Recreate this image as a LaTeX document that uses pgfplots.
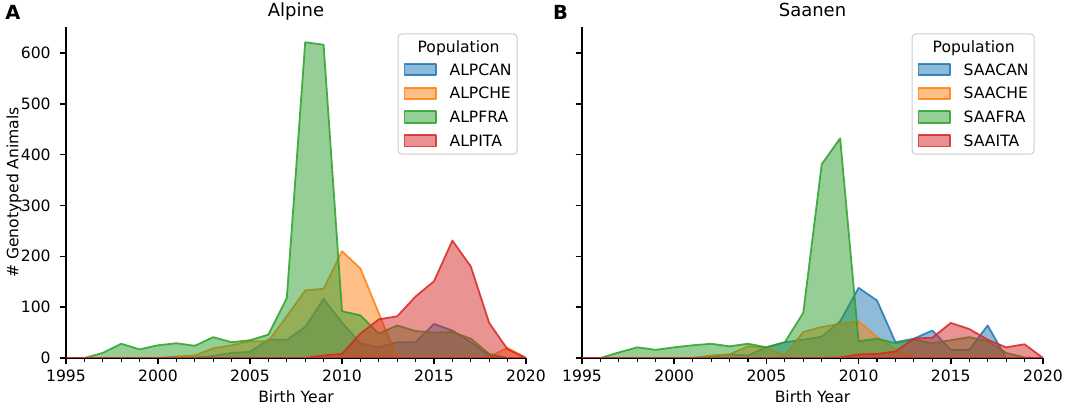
\documentclass[border=0pt]{standalone}
\usepackage{pgfplots}
\pgfplotsset{compat=1.18}
\usepackage{pgfplotstable}
\usepackage{fontspec}
\setmainfont{DejaVu Sans}
\definecolor{tabblue}{HTML}{1F77B4}
\definecolor{taborange}{HTML}{FF7F0E}
\definecolor{tabgreen}{HTML}{2CA02C}
\definecolor{tabred}{HTML}{D62728}
\definecolor{leggray}{HTML}{CCCCCC}

\pgfplotstableread{
year CAN CHE FRA ITA
1995 0 0 0 0
1996 0 0 0 0
1997 0 0 10 0
1998 0 0 28 0
1999 0 0 17 0
2000 0 0 25 0
2001 0 3 29 0
2002 1 5 24 0
2003 4 19 41 0
2004 10 25 31 0
2005 12 33 35 0
2006 36 33 46 0
2007 36 82 118 0
2008 61 133 621 0
2009 116 136 616 5
2010 70 210 92 8
2011 29 176 84 48
2012 21 88 48 76
2013 31 0 64 82
2014 31 0 53 121
2015 67 0 50 151
2016 54 0 51 231
2017 31 0 38 180
2018 5 2 8 69
2019 0 20 0 17
2020 0 0 0 0
}\alpine

\pgfplotstableread{
year CAN CHE FRA ITA
1995 0 0 0 0
1996 0 0 0 0
1997 0 0 11 0
1998 0 0 21 0
1999 0 0 16 0
2000 0 0 21 0
2001 0 0 25 0
2002 2 5 28 0
2003 7 7 23 0
2004 5 23 28 0
2005 21 21 21 0
2006 31 5 31 0
2007 36 51 89 0
2008 42 61 381 0
2009 72 67 432 1
2010 138 72 33 7
2011 113 41 38 8
2012 31 17 29 13
2013 38 0 36 38
2014 54 0 29 40
2015 16 0 35 69
2016 16 0 41 57
2017 64 0 33 36
2018 0 0 10 21
2019 0 0 1 27
2020 0 0 0 0
}\saanen

\newcommand{\ticksize}{\fontsize{7.8}{9}\selectfont}

\pgfplotsset{
  legend image code/.code={\draw[#1,sharp corners] (0pt,-2.85pt) rectangle (15.8pt,2.85pt);},
  mystyle/.style={
    scale only axis, width=230pt, height=165.5pt,
    xmin=1995, xmax=2020, ymin=0, ymax=651,
    axis x line*=bottom, axis y line*=left,
    axis line style={line width=0.74pt, black},
    xtick={1995,2000,...,2020}, minor xtick={1995,...,2020},
    ytick={0,100,...,600},
    tick align=outside,
    major tick length=3.25pt, minor tick length=1.9pt,
    major tick style={line width=0.74pt, black},
    minor tick style={line width=0.55pt, black},
    /pgf/number format/1000 sep={},
    /pgf/number format/assume math mode=true,
    tick label style={font=\ticksize},
    xticklabel style={anchor=base, inner sep=0pt, yshift=-8.6pt},
    yticklabel style={anchor=east, inner sep=0pt, xshift=-4.25pt},
    label style={font=\ticksize},
    xlabel style={at={(axis description cs:0.5,0)}, anchor=base, yshift=-22.5pt},
    title style={at={(axis description cs:0.5,1)}, anchor=base, yshift=-0.8pt, font=\fontsize{9}{11}\selectfont},
    legend cell align=left,
    legend style={at={(1,1)}, anchor=north east, xshift=-4.15pt, yshift=-3.15pt,
      draw=leggray, line width=0.5pt, rounded corners=2pt, fill=white, font=\ticksize,
      inner xsep=2.8pt, inner ysep=3.4pt, row sep=5.25pt, column sep=6.3pt,
      nodes={inner sep=0pt, text height=5.8pt, text depth=0.2pt}},
  },
  sblue/.style={draw=tabblue, draw opacity=0.85, fill=tabblue, fill opacity=0.5, line width=0.9pt, line join=round},
  sorange/.style={draw=taborange, draw opacity=0.85, fill=taborange, fill opacity=0.5, line width=0.9pt, line join=round},
  sgreen/.style={draw=tabgreen, draw opacity=0.85, fill=tabgreen, fill opacity=0.5, line width=0.9pt, line join=round},
  sred/.style={draw=tabred, draw opacity=0.85, fill=tabred, fill opacity=0.5, line width=0.9pt, line join=round},
}

\begin{document}
\begin{tikzpicture}
\path[use as bounding box] (0,0) rectangle (532.5pt,202.5pt);

\begin{axis}[mystyle, at={(33pt,23.5pt)}, anchor=south west,
  title={Alpine}, xlabel={Birth Year}, ylabel={\# Genotyped Animals},
  ylabel style={at={(axis description cs:-0.113,0.5)}, anchor=center}]
\addlegendimage{empty legend}\addlegendentry{\hspace{-16pt}Population}
\addplot[sblue] table[x=year,y=CAN]{\alpine} \closedcycle;
\addlegendentry{ALPCAN}
\addplot[sorange] table[x=year,y=CHE]{\alpine} \closedcycle;
\addlegendentry{ALPCHE}
\addplot[sgreen] table[x=year,y=FRA]{\alpine} \closedcycle;
\addlegendentry{ALPFRA}
\addplot[sred] table[x=year,y=ITA]{\alpine} \closedcycle;
\addlegendentry{ALPITA}
\end{axis}

\begin{axis}[mystyle, at={(291pt,23.5pt)}, anchor=south west, width=230.5pt,
  title={Saanen}, xlabel={Birth Year}, yticklabels={}]
\addlegendimage{empty legend}\addlegendentry{\hspace{-15.5pt}Population}
\addplot[sblue] table[x=year,y=CAN]{\saanen} \closedcycle;
\addlegendentry{SAACAN}
\addplot[sorange] table[x=year,y=CHE]{\saanen} \closedcycle;
\addlegendentry{SAACHE}
\addplot[sgreen] table[x=year,y=FRA]{\saanen} \closedcycle;
\addlegendentry{SAAFRA}
\addplot[sred] table[x=year,y=ITA]{\saanen} \closedcycle;
\addlegendentry{SAAITA}
\end{axis}

\node[anchor=base west, inner sep=0pt, font=\bfseries\fontsize{9.7}{11}\selectfont] at (2.5pt,192.85pt) {A};
\node[anchor=base west, inner sep=0pt, font=\bfseries\fontsize{9.7}{11}\selectfont] at (276.35pt,192.85pt) {B};
\end{tikzpicture}
\end{document}
